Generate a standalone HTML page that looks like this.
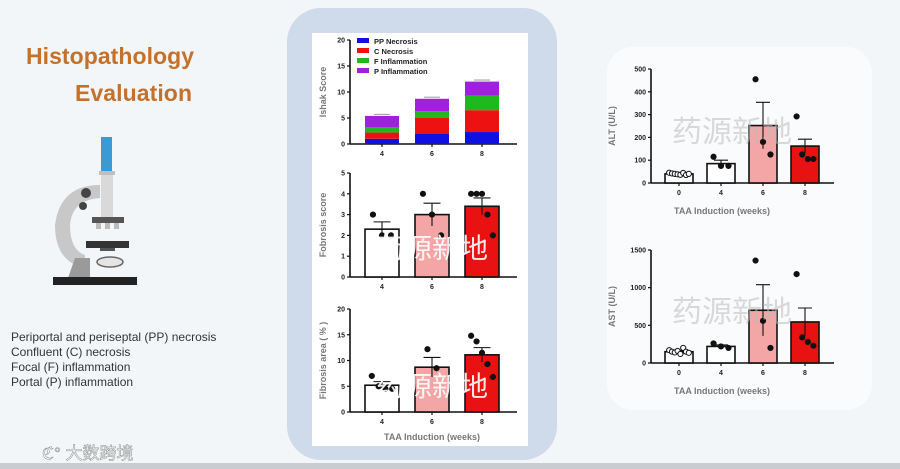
<!DOCTYPE html>
<html><head><meta charset="utf-8"><style>
html,body{margin:0;padding:0;width:900px;height:469px;overflow:hidden;background:#f3f6f9;font-family:"Liberation Sans","Noto Sans CJK SC",sans-serif}
svg text{font-family:"Liberation Sans","Noto Sans CJK SC",sans-serif}
</style></head><body>
<svg id="s" width="900" height="469" viewBox="0 0 900 469" xmlns="http://www.w3.org/2000/svg">
<rect x="0" y="0" width="900" height="469" fill="#f3f6f9"/>
<rect x="0" y="463" width="900" height="6" fill="#c9ccd0"/>
<text x="26" y="64" font-size="23" font-weight="bold" fill="#c4712b" textLength="168">Histopathology</text>
<text x="75" y="101" font-size="23" font-weight="bold" fill="#c4712b" textLength="117">Evaluation</text>
<g>
<rect x="101" y="137" width="11" height="34" fill="#3a9ad6"/>
<rect x="99" y="171" width="16" height="4" fill="#bfbfbf"/>
<rect x="101" y="175" width="12" height="42" fill="#d9d9d9"/>
<path d="M100 185 Q60 185 55 225 Q55 262 85 268 L85 255 Q70 250 70 225 Q72 200 100 198 Z" fill="#c8c8c8"/>
<circle cx="86" cy="193" r="5" fill="#444"/><circle cx="83" cy="206" r="4" fill="#444"/>
<rect x="92" y="217" width="32" height="6" fill="#555"/>
<rect x="96" y="223" width="5" height="6" fill="#bbb"/><rect x="105" y="223" width="5" height="6" fill="#bbb"/><rect x="114" y="223" width="5" height="6" fill="#bbb"/>
<rect x="86" y="241" width="43" height="7" fill="#333"/>
<rect x="100" y="248" width="15" height="3" fill="#555"/>
<ellipse cx="110" cy="262" rx="13" ry="5" fill="#e5e5e5" stroke="#666" stroke-width="1.5"/>
<path d="M68 278 L75 258 L90 258 L90 278 Z" fill="#9a9a9a"/>
<rect x="53" y="277" width="84" height="8" fill="#222"/>
</g>
<g font-size="12" fill="#333">
<text x="11" y="341">Periportal and periseptal (PP) necrosis</text>
<text x="11" y="356">Confluent (C) necrosis</text>
<text x="11" y="371">Focal (F) inflammation</text>
<text x="11" y="386">Portal (P) inflammation</text>
</g>
<text x="42" y="459" font-size="17" fill="#fff" stroke="#999" stroke-width="0.6">ℭ° 大数跨境</text>
<rect x="287" y="8" width="270" height="452" rx="34" fill="#cfdaeb"/>
<rect x="312" y="33" width="216" height="413" fill="#ffffff"/>
<rect x="607" y="47" width="265" height="363" rx="26" fill="#fafbfc"/>
<g id="g"></g>
</svg>
<script>
// Ishak stacked chart data
const ishakCats = ["4","6","8"];
const ppNecrosis = [1.0, 2.0, 2.3];
const cNecrosis = [1.2, 3.0, 4.2];
const fInflam = [1.0, 1.3, 2.8];
const pInflam = [2.2, 2.4, 2.7];
const ishakTicks = [0,5,10,15,20];
// Fibrosis score
const fsCats = ["4","6","8"];
const fsMean = [2.3, 3.0, 3.4];
const fsErr = [0.35, 0.55, 0.4];
const fsPoints = [[3,2,2],[4,3,2],[4,4,4,3,2]];
const fsTicks = [0,1,2,3,4,5];
// Fibrosis area
const faMean = [5.2, 8.7, 11.1];
const faErr = [0.7, 1.9, 1.4];
const faPoints = [[7,5,4.5,4.5],[12.2,8.5],[14.8,13.7,11.5,9.3,6.8]];
const faTicks = [0,5,10,15,20];
// ALT
const liverCats = ["0","4","6","8"];
const altMean = [40, 85, 252, 162];
const altErr = [5, 15, 102, 30];
const altPoints = [[45,42,40,38,36,44,35,40],[115,75,75],[455,180,125],[292,125,105,105]];
const altTicks = [0,100,200,300,400,500];
// AST
const astMean = [150, 220, 700, 545];
const astErr = [15, 20, 340, 185];
const astPoints = [[170,150,140,160,120,200,150,135],[260,220,200],[1360,560,200],[1180,340,280,230]];
const astTicks = [0,500,1000,1500];

const NS="http://www.w3.org/2000/svg";
const G=document.getElementById('g');
function mk(tag,attrs,parent){const e=document.createElementNS(NS,tag);for(const k in attrs)e.setAttribute(k,attrs[k]);(parent||G).appendChild(e);return e;}
function txt(x,y,s,size,anchor,fill,parent){const t=mk('text',{x:x,y:y,'font-size':size,'text-anchor':anchor,fill:fill,'font-weight':'bold'},parent);t.textContent=s;return t;}

function axes(ax,x1,yTop,yBot,xEnd,ticks,yScale,cats,xScale,title,tx){
  const g=mk('g',{});
  
  
  mk('line',{x1:x1,y1:yTop,x2:x1,y2:yBot,stroke:'#111','stroke-width':1.6},g);
  mk('line',{x1:x1,y1:yBot,x2:xEnd,y2:yBot,stroke:'#111','stroke-width':1.6},g);
  ticks.forEach(t=>{const y=yScale(t);mk('line',{x1:x1-3,y1:y,x2:x1,y2:y,stroke:'#111','stroke-width':1.2},g);txt(x1-5,y+2.5,String(t),7,'end','#222',g);});
  cats.forEach((c,i)=>{const x=xScale(i);mk('line',{x1:x,y1:yBot,x2:x,y2:yBot+3,stroke:'#111','stroke-width':1.2},g);txt(x,yBot+12,c,7,'middle','#222',g);});
  const t=txt(tx,(yTop+yBot)/2,title,9,'middle','#777',g);
  t.setAttribute('transform','rotate(-90 '+tx+' '+((yTop+yBot)/2)+')');
}
function barChart(name,mean,err,pts,cats,ticks,x0,x1,yTop,yBot,xEnd,barW,step,c0,fills,title,tx,r){
  const max=ticks[ticks.length-1];
  const ys=v=>yBot-(v/max)*(yBot-yTop);
  const xs=i=>c0+i*step;
  axes(name,x0,yTop,yBot,xEnd,ticks,ys,cats,xs,title,tx);
  mean.forEach((m,i)=>{
    const x=xs(i);
    const b=mk('rect',{x:x-barW/2,y:ys(m),width:barW,height:yBot-ys(m),fill:fills[i],stroke:'#111','stroke-width':1.6});
    
    
    const e=mk('path',{d:'M'+x+' '+ys(m-err[i])+' V'+ys(m+err[i])+' M'+(x-barW/4)+' '+ys(m+err[i])+' H'+(x+barW/4),stroke:'#111','stroke-width':1.1,fill:'none'});
    
    
    const n=pts[i].length;
    pts[i].forEach((p,j)=>{
      const dx=(j-(n-1)/2)*(barW*0.8/Math.max(n,3));
      const open=(i===0&&cats[0]==='0');
      const c=mk('circle',{cx:x+dx,cy:ys(p),r:r,fill:open?'#fff':'#111',stroke:'#111','stroke-width':1});
      
      
    });
  });
}
// Ishak stacked
(function(){
  const yTop=40,yBot=144,x0=350,max=20;
  const ys=v=>yBot-(v/max)*(yBot-yTop);
  const xs=i=>382+i*50;
  axes('ishak',x0,yTop,yBot,517,ishakTicks,ys,ishakCats,xs,'Ishak Score',326);
  const series=[[ppNecrosis,'#1010e0','PP Necrosis'],[cNecrosis,'#ee1111','C Necrosis'],[fInflam,'#1fb81f','F Inflammation'],[pInflam,'#a020e0','P Inflammation']];
  ishakCats.forEach((c,i)=>{
    let base=0;
    series.forEach(s=>{
      const v=s[0][i];
      const r=mk('rect',{x:xs(i)-17,y:ys(base+v),width:34,height:ys(base)-ys(base+v),fill:s[1]});
      
      
      base+=v;
    });
    mk('line',{x1:xs(i)-8,y1:ys(base+0.3),x2:xs(i)+8,y2:ys(base+0.3),stroke:'#999','stroke-width':1});
  });
  series.forEach((s,k)=>{
    const lg=mk('g',{});
    
    
    mk('rect',{x:357,y:38+k*10,width:12,height:5,fill:s[1]},lg);
    txt(374,44+k*10,s[2],7.5,'start','#222',lg);
  });
})();
barChart('fibrosis-score',fsMean,fsErr,fsPoints,fsCats,fsTicks,350,0,173,277,517,34,50,382,['#ffffff','#f4a5a5','#e81212'],'Fobrosis score',326,2.6);
barChart('fibrosis-area',faMean,faErr,faPoints,fsCats,faTicks,350,0,309,412,517,34,50,382,['#ffffff','#f4a5a5','#e81212'],'Fibrosis area ( % )',326,2.6);
txt(432,440,'TAA Induction (weeks)',9,'middle','#777');
barChart('alt',altMean,altErr,altPoints,liverCats,altTicks,651,0,69,183,834,28,42,679,['#ffffff','#ffffff','#f4a5a5','#e81212'],'ALT (U/L)',615,2.6);
txt(722,214,'TAA Induction (weeks)',9,'middle','#777');
barChart('ast',astMean,astErr,astPoints,liverCats,astTicks,651,0,250,363,834,28,42,679,['#ffffff','#ffffff','#f4a5a5','#e81212'],'AST (U/L)',615,2.6);
txt(722,394,'TAA Induction (weeks)',9,'middle','#777');
// watermarks
[[732,142,'#bdbdbd',0.55,30],[732,322,'#bdbdbd',0.55,30],[432,258,'#ffffff',0.9,28],[432,396,'#ffffff',0.9,28]].forEach(w=>{
  const t=mk('text',{x:w[0],y:w[1],'font-size':w[4],'text-anchor':'middle',fill:w[2],opacity:w[3]});
  t.textContent='药源新地';
  
  
});
</script>
</body></html>
